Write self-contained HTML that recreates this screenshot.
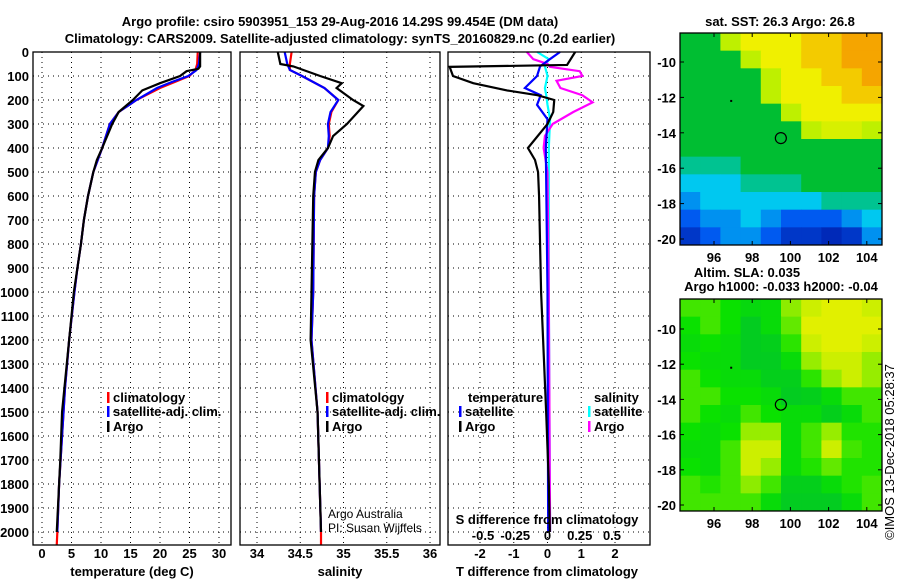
<!DOCTYPE html>
<html><head><meta charset="utf-8"><style>
html,body{margin:0;padding:0;background:#fff}
svg{display:block;font-family:"Liberation Sans",sans-serif}
.b{font-weight:bold;font-size:13px}
</style></head><body>
<svg id="c" width="900" height="580" viewBox="0 0 900 580"></svg>
<script>
// ---- data ----
const depthTicks=[0,100,200,300,400,500,600,700,800,900,1000,1100,1200,1300,1400,1500,1600,1700,1800,1900,2000];
const tempTicks=[0,5,10,15,20,25,30];
const salTicks=[34,34.5,35,35.5,36];
const tdiffTicks=[-2,-1,0,1,2];
const sdiffTicks=[-0.5,-0.25,0,0.25,0.5];
const argoTDepth=[0,60,70,80,100,130,160,200,250,300,400,450,500,600,700,800,900,1000,1200,1300,1400,1500,1700,1850,2000];
const argoTemp=[26.8,26.8,26.5,24.5,23.4,20,17,15.4,13,11.9,10.2,9.3,8.7,7.8,7.1,6.6,6,5.4,4.6,4.2,3.8,3.4,3.1,2.8,2.5];
const climDepth=[0,50,75,100,125,150,200,250,300,400,500,600,700,800,900,1000,1200,1400,1600,1800,2000,2054];
const climTemp=[26.4,26.3,26,25,22.5,20,16,13,11.5,10.2,8.7,7.8,7.1,6.6,6,5.5,4.6,3.9,3.4,2.9,2.6,2.5];
const satDepth=[0,50,75,100,125,150,200,250,300,400,500,600,700,800,900,1000,1200,1400,1600,1800,2000];
const satTemp=[26.8,26.6,26.2,24.8,22,19.5,16,13,11.5,10.2,8.7,7.8,7.1,6.6,6,5.5,4.6,3.9,3.4,2.9,2.6];
const argoSDepth=[0,50,60,100,130,150,200,225,300,350,400,450,500,600,1000,1200,1500,2000];
const argoSal=[34.24,34.27,34.42,34.73,34.98,34.92,35.11,35.23,35.04,34.88,34.82,34.71,34.67,34.65,34.63,34.62,34.7,34.74];
const climSDepth=[0,50,75,100,150,200,250,300,350,400,450,500,600,1000,1200,1500,2000,2054];
const climSal=[34.40,34.38,34.38,34.52,34.78,34.94,34.86,34.83,34.84,34.82,34.73,34.68,34.66,34.65,34.63,34.7,34.74,34.74];
const satSal=[34.32,34.35,34.38,34.52,34.78,34.94,34.85,34.82,34.83,34.82,34.73,34.68,34.66,34.65,34.63,34.7,34.74,34.74];
const tdDepth=[0,54,62,100,130,160,180,200,250,300,400,450,500,600,800,1000,1200,1400,1500,1800,2000];
const argoTDiff=[0.82,0.58,-2.9,-2.8,-2.2,-1.2,-0.3,0.2,0.17,0,-0.58,-0.37,-0.28,-0.25,-0.22,-0.19,-0.13,-0.07,-0.04,0.04,0.07];
const sdDepth=[0,30,60,100,150,180,220,280,400,1000,2000];
const satTDiff=[0.37,0.07,-0.22,-0.31,-0.67,-0.2,-0.31,0,-0.05,0,0.02];
const satSDiff=[-0.08,0.01,-0.02,0.0,-0.02,-0.01,0,0.02,0.01,0.01,0.02];
const argoSDDepth=[0,30,50,62,80,100,120,150,180,210,250,300,350,400,500,1000,2000];
const argoSDiff=[-0.16,-0.11,0,0.02,0.25,0.27,0.07,0.1,0.27,0.35,0.2,0.04,-0.02,-0.03,0,0.01,0.02];
const lonTicks=[96,98,100,102,104];
const latTicks=[-10,-12,-14,-16,-18,-20];
const sstGrid=[
[3,3,4,5,5,5,5.5,5.5,6,6],[3,3,3,4,5,5,5.5,5.5,6,6],[3,3,3,3,4,5,5,5.5,5.5,6],
[3,3,3,3,4,5,5,5,5.5,5.5],[3,3,3,3,3,4,5,5,5,5],[3,3,3,3,3,3,4,4.5,4.5,4],
[3,3,3,3,3,3,3,3,3,3],[2.5,2.5,2.5,3,3,3,3,3,3,3],[2,2,2,2.5,2.5,2.5,3,3,3,3],
[1.5,2,2,2,2,2,2,2.5,2.5,2.5],[1,1.5,1.5,2,1.5,1,1,1,1.5,2],[0.5,1,1.5,1.5,1,0.5,0.5,0.3,0.5,1.5]];
const slaGrid=[
[1.5,1.5,1,0.7,0.8,2.2,2.8,3,3,2.8],[1,1.5,1,0.3,0.8,1.8,3,3,3,3],[0.8,1,0.8,0.3,0.4,1.3,2.8,3,3,2.8],
[1,0.8,0.8,0.3,0.3,0.8,2.3,2.8,2.8,2.3],[1.5,1,0.8,0.8,0.4,0.4,1.3,2.3,2.8,2.3],[1.5,1.5,1,1,0.8,0.3,0.4,0.8,1.5,1.5],
[1.5,1,0.8,1.5,1,0.8,0.8,0.4,0.8,1.5],[1,0.8,1,2.3,2.3,0.8,1.5,2.3,1.2,1.2],[0.8,0.8,1.5,2.8,2.8,0.8,1.5,2.8,1.5,1.2],
[1,0.8,1.5,2.8,2.3,0.8,1.2,1.8,1.2,1.2],[1.5,1.2,1.5,2.2,1.5,0.4,0.4,0.8,1.2,1.5],[1.5,1.5,1.5,1.5,0.8,0.3,0.3,0.3,0.8,1.5]];
const floatLon=99.5, floatLat=-14.3;

// ---- helpers ----
const S=document.getElementById('c'),NS='http://www.w3.org/2000/svg';
function mk(t,a,p){const e=document.createElementNS(NS,t);for(const k in a)e.setAttribute(k,a[k]);(p||S).appendChild(e);return e;}
function tx(x,y,s,cls,anchor,name,extra){const e=mk('text',Object.assign({x:x,y:y,'text-anchor':anchor||'middle'},extra||{}));if(cls)e.setAttribute('class',cls);e.textContent=s;


return e;}
const Y=d=>52+d*0.24;
const TX=t=>42+t*5.9, SX=s=>257+(s-34)*86.5, DX=v=>547.5+v*33.75, SDX=v=>547.5+v*129;
function box(x0,x1,name){const r=mk('rect',{x:x0,y:52,width:x1-x0,height:493,fill:'none',stroke:'#000','stroke-width':1.3});

}
function grid(x0,x1,xs){depthTicks.forEach(d=>mk('line',{x1:x0,x2:x1,y1:Y(d),y2:Y(d),stroke:'#000','stroke-dasharray':'1,4','stroke-width':1}));
xs.forEach(x=>mk('line',{x1:x,x2:x,y1:52,y2:545,stroke:'#000','stroke-dasharray':'1,4','stroke-width':1}));}
function line(xs,ds,fx,col,name,w){const p=mk('polyline',{points:xs.map((v,i)=>fx(v)+','+Y(ds[i])).join(' '),fill:'none',stroke:col,'stroke-width':w||2.2});

}

// titles
tx(340,26,'Argo profile: csiro 5903951_153 29-Aug-2016 14.29S 99.454E (DM data)','b','middle','title-line-1',{'font-size':'15px'});
tx(340,43,'Climatology: CARS2009. Satellite-adjusted climatology: synTS_20160829.nc (0.2d earlier)','b','middle','title-line-2',{'font-size':'15px'});

// panel 1 temperature
grid(33,231,tempTicks.map(TX));
line(climTemp,climDepth,TX,'#f00','climatology-temp-line');
line(satTemp,satDepth,TX,'#00f','satellite-temp-line');
line(argoTemp,argoTDepth,TX,'#000','argo-temp-line');
box(33,231,'temperature-panel');
depthTicks.forEach(d=>tx(29,Y(d)+5,String(d),'b','end','depth-tick-label'));
tempTicks.forEach(t=>tx(TX(t),558,String(t),'b','middle','temp-tick-label'));
tx(132,576,'temperature (deg C)','b','middle','x-axis-title-temperature');
// panel 2 salinity
grid(240,440,salTicks.map(SX));
line(climSal,climSDepth,SX,'#f00','climatology-sal-line');
line(satSal,climSDepth.slice(0,17),SX,'#00f','satellite-sal-line');
line(argoSal,argoSDepth,SX,'#000','argo-sal-line');
box(240,440,'salinity-panel');
salTicks.forEach(t=>tx(SX(t),558,String(t),'b','middle','sal-tick-label'));
tx(340,576,'salinity','b','middle','x-axis-title-salinity');
tx(328,518,'Argo Australia',null,'start','credit-argo-australia',{'font-size':'12px'});
tx(328,532,'PI: Susan Wijffels',null,'start','credit-pi',{'font-size':'12px'});
// panel 3 difference
grid(448,650,tdiffTicks.map(DX));
line(satSDiff,sdDepth,SDX,'#0ff','satellite-sal-diff-line');
line(argoSDiff,argoSDDepth,SDX,'#f0f','argo-sal-diff-line');
line(satTDiff,sdDepth,DX,'#00f','satellite-temp-diff-line');
line(argoTDiff,tdDepth,DX,'#000','argo-temp-diff-line');
box(448,650,'difference-panel');
tdiffTicks.forEach(t=>tx(DX(t),558,String(t),'b','middle','tdiff-tick-label'));
tx(547,576,'T difference from climatology','b','middle','x-axis-title-tdiff');
tx(547,524,'S difference from climatology','b','middle','secondary-axis-title-sdiff');
sdiffTicks.forEach(t=>tx(SDX(t),540,String(t),'b','middle','sdiff-tick-label'));

// legends
function leg(x,y,col,label,name){mk('rect',{x:x,y:y-10,width:2.5,height:11,fill:col});tx(x+6,y,label,'b','start',name);}
leg(107,402,'#f00','climatology','legend-climatology');leg(107,416,'#00f','satellite-adj. clim.','legend-satellite-adj');leg(107,431,'#000','Argo','legend-argo');
leg(326,402,'#f00','climatology','legend-climatology-sal');leg(326,416,'#00f','satellite-adj. clim.','legend-satellite-adj-sal');leg(326,431,'#000','Argo','legend-argo-sal');
tx(468,402,'temperature','b','start','legend-temperature-header');
leg(459,416,'#00f','satellite','legend-temp-satellite');leg(459,431,'#000','Argo','legend-temp-argo');
tx(594,402,'salinity','b','start','legend-salinity-header');
leg(588,416,'#0ff','satellite','legend-sal-satellite');leg(588,431,'#f0f','Argo','legend-sal-argo');

// maps
function sstCol(v){const st=[[0,[0,20,160]],[1,[0,90,240]],[2,[0,200,240]],[3,[0,190,50]],[3.5,[20,210,20]],[4,[190,240,0]],[5,[240,240,0]],[6,[245,165,0]]];
for(let i=1;i<st.length;i++)if(v<=st[i][0]){const a=st[i-1],b=st[i],f=(v-a[0])/(b[0]-a[0]);return 'rgb('+a[1].map((c,k)=>Math.round(c+(b[1][k]-c)*f)).join(',')+')';}return 'rgb(245,165,0)';}
function slaCol(v){const st=[[0,[0,195,45]],[1,[10,225,0]],[2,[120,235,0]],[3,[225,240,0]]];
for(let i=1;i<st.length;i++)if(v<=st[i][0]){const a=st[i-1],b=st[i],f=(v-a[0])/(b[0]-a[0]);return 'rgb('+a[1].map((c,k)=>Math.round(c+(b[1][k]-c)*f)).join(',')+')';}return 'rgb(225,240,0)';}
function map(y0,y1,lat10y,lat20y,grid,cf,name,nm){
 const x0=680,x1=882,LX=l=>714+(l-96)*19.1,LY=l=>lat10y+(-10-l)*(lat20y-lat10y)/10;
 const g=mk('g',{});
 const rows=grid.length,cols=grid[0].length,cw=(x1-x0)/cols,ch=(y1-y0)/rows;
 grid.forEach((r,i)=>r.forEach((v,j)=>{const c=mk('rect',{x:x0+j*cw,y:y0+i*ch,width:cw+0.5,height:ch+0.5,fill:cf(v)},g);
 
 }));
 const b=mk('rect',{x:x0,y:y0,width:x1-x0,height:y1-y0,fill:'none',stroke:'#000','stroke-width':1.3});
 lonTicks.forEach(l=>{mk('line',{x1:LX(l),x2:LX(l),y1:y1,y2:y1-4,stroke:'#000'});mk('line',{x1:LX(l),x2:LX(l),y1:y0,y2:y0+4,stroke:'#000'});tx(LX(l),y1+17,String(l),'b','middle','lon-tick-label');});
 latTicks.forEach(l=>{mk('line',{x1:x0,x2:x0+4,y1:LY(l),y2:LY(l),stroke:'#000'});mk('line',{x1:x1,x2:x1-4,y1:LY(l),y2:LY(l),stroke:'#000'});tx(x0-4,LY(l)+5,String(l),'b','end','lat-tick-label');});
 const c=mk('circle',{cx:LX(floatLon),cy:LY(floatLat),r:5.5,fill:'none',stroke:'#000','stroke-width':1.2});
 
 mk('rect',{x:LX(96.9)-1,y:LY(-12.2)-1,width:2,height:2,fill:'#000'});
}
map(33,245,62,239,sstGrid,sstCol,'sst-map','sst');
map(299,511,329,505,slaGrid,slaCol,'sla-map','sla');
tx(780,26,'sat. SST: 26.3 Argo: 26.8','b','middle','sst-map-title');
tx(747,277,'Altim. SLA: 0.035','b','middle','sla-map-title');
tx(781,291,'Argo h1000: -0.033 h2000: -0.04','b','middle','sla-map-subtitle');
tx(0,0,'©IMOS 13-Dec-2018 05:28:37',null,'middle','copyright-timestamp',{'font-size':'13px',transform:'translate(894,452) rotate(-90)'});
</script>
</body></html>
